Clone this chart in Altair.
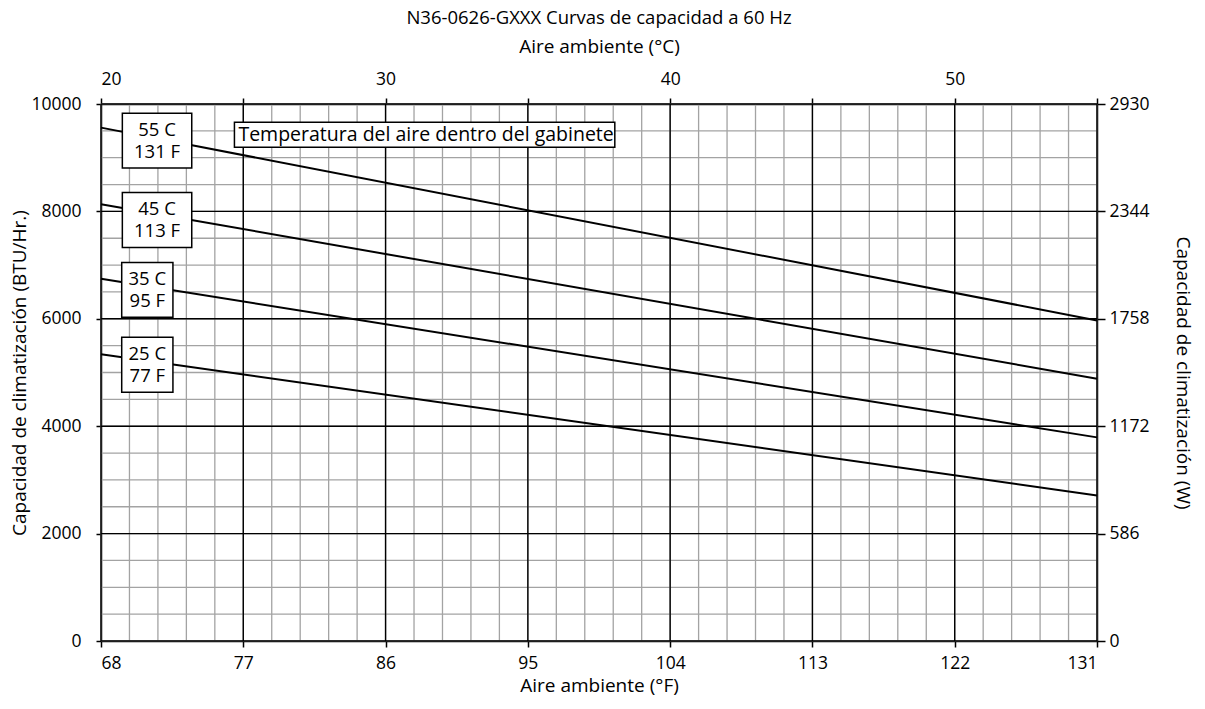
import altair as alt
import pandas as pd

FONT = "Open Sans"
LFS = 17.5   # tick label size
TFS = 19     # axis title size

# ---- axis tick values ----
f_ticks = [68, 77, 86, 95, 104, 113, 122, 131]          # Aire ambiente (°F)
c_ticks = [20, 25, 30, 35, 40, 45, 50, 55]              # Aire ambiente (°C)
btu_ticks = [0, 2000, 4000, 6000, 8000, 10000]          # BTU/Hr.
w_ticks = [0, 586, 1172, 1758, 2344, 2930]              # W

# ---- grid positions (every 1 °C and every 500 BTU/Hr.) ----
f_minor = [round(68 + 1.8 * i, 2) for i in range(36)]
btu_minor = list(range(0, 10001, 500))

# ---- capacity curves (BTU/Hr. at 68 °F and 131 °F) ----
curve_names = ["55 C", "45 C", "35 C", "25 C"]
curve_f = [68, 131]
curve_55 = [9560, 5970]
curve_45 = [8135, 4885]
curve_35 = [6745, 3792]
curve_25 = [5338, 2711]

# ---- curve labels ----
box_text = ["55 C\n131 F", "45 C\n113 F", "35 C\n95 F", "25 C\n77 F"]
box_f1 = [69.35, 69.35, 69.31, 69.31]
box_f2 = [73.74, 73.74, 72.55, 72.55]
box_top = [9826, 8354, 7050, 5658]
box_bot = [8807, 7329, 6031, 4634]

note_text = "Temperatura del aire dentro del gabinete"
note_f = [76.44, 100.5]
note_btu = [9193, 9658]

title_text = "N36-0626-GXXX Curvas de capacidad a 60 Hz"

# ---- data frames ----
curves = []
for name, vals in zip(curve_names, [curve_55, curve_45, curve_35, curve_25]):
    for f, v in zip(curve_f, vals):
        curves.append({"curve": name, "F": f, "BTU": v})
curves_df = pd.DataFrame(curves)

boxes_df = pd.DataFrame({
    "label": box_text, "F": box_f1, "F2": box_f2, "BTU": box_bot, "BTU2": box_top,
    "Fc": [(a + b) / 2 for a, b in zip(box_f1, box_f2)],
    "Bc": [(a + b) / 2 for a, b in zip(box_top, box_bot)],
})
note_df = pd.DataFrame({"label": [note_text], "F": [note_f[0]], "F2": [note_f[1]],
                        "BTU": [note_btu[0]], "BTU2": [note_btu[1]],
                        "Bc": [sum(note_btu) / 2]})

common_axis = dict(domainColor="black", tickColor="black", labelColor="black",
                   titleColor="black", labelFont=FONT, titleFont=FONT,
                   labelFontSize=LFS, titleFontSize=TFS, titleFontWeight="normal",
                   tickWidth=1.5, domainWidth=1.5, grid=False)

axF = alt.Axis(values=f_ticks, title="Aire ambiente (°F)", orient="bottom",
               tickSize=6, labelPadding=7, titlePadding=5, **common_axis)
axB = alt.Axis(values=btu_ticks, title="Capacidad de climatización (BTU/Hr.)",
               orient="left", format="d", tickSize=5, labelPadding=15, titlePadding=1,
               **common_axis)

sx = alt.Scale(domain=[68, 131], nice=False, zero=False)
sy = alt.Scale(domain=[0, 10000], nice=False, zero=True)

xF = alt.X("F:Q", scale=sx, axis=axF)
yB = alt.Y("BTU:Q", scale=sy, axis=axB)

minor_v = alt.Chart(pd.DataFrame({"F": f_minor})).mark_rule(
    color="#a3a3a3", strokeWidth=1.3).encode(x=xF)
minor_h = alt.Chart(pd.DataFrame({"BTU": btu_minor})).mark_rule(
    color="#a3a3a3", strokeWidth=1.3).encode(y=yB)
major_v = alt.Chart(pd.DataFrame({"F": f_ticks})).mark_rule(
    color="black", strokeWidth=1.4).encode(x=xF)
major_h = alt.Chart(pd.DataFrame({"BTU": btu_ticks})).mark_rule(
    color="black", strokeWidth=1.4).encode(y=yB)

lines = alt.Chart(curves_df).mark_line(color="black", strokeWidth=2).encode(
    x=xF, y=yB, detail="curve:N")

boxes = alt.Chart(boxes_df).mark_rect(fill="white", stroke="black", strokeWidth=1.5).encode(
    x=xF, x2="F2:Q", y=yB, y2="BTU2:Q")
box_labels = alt.Chart(boxes_df).mark_text(
    font=FONT, fontSize=18.5, lineBreak="\n", lineHeight=21.5, baseline="middle",
    align="center", dy=-10.5, color="black").encode(
    x=alt.X("Fc:Q", scale=sx, axis=axF), y=alt.Y("Bc:Q", scale=sy, axis=axB), text="label:N")

note_box = alt.Chart(note_df).mark_rect(fill="white", stroke="black", strokeWidth=1.5).encode(
    x=xF, x2="F2:Q", y=yB, y2="BTU2:Q")
note_label = alt.Chart(note_df).mark_text(
    font=FONT, fontSize=19.5, baseline="middle", align="left", dx=4, color="black").encode(
    x=xF, y=alt.Y("Bc:Q", scale=sy, axis=axB), text="label:N")

main = alt.layer(minor_v, minor_h, major_v, major_h, lines, boxes, box_labels,
                 note_box, note_label)

top_axis = alt.Chart(pd.DataFrame({"C": c_ticks})).mark_rule(opacity=0).encode(
    x=alt.X("C:Q", scale=alt.Scale(domain=[20, 55], nice=False, zero=False),
            axis=alt.Axis(orient="top", values=c_ticks, title="Aire ambiente (°C)",
                          labelExpr="datum.value % 10 == 0 && datum.value < 55 ? datum.label : ''",
                          tickSize=6, labelPadding=10, titlePadding=14, **common_axis)))

right_axis = alt.Chart(pd.DataFrame({"W": w_ticks})).mark_rule(opacity=0).encode(
    y=alt.Y("W:Q", scale=alt.Scale(domain=[0, 2930], nice=False, zero=True),
            axis=alt.Axis(orient="right", values=w_ticks, format="d",
                          title="Capacidad de climatización (W)",
                          tickSize=8, labelPadding=4, titlePadding=23, **common_axis)))

chart = alt.layer(main, top_axis, right_axis).resolve_scale(
    x="independent", y="independent"
).properties(
    width=996, height=537,
    padding={"left": 2, "top": 0, "right": 2, "bottom": 0},
    title=alt.TitleParams(title_text, font=FONT, fontSize=18.5, fontWeight="normal",
                          color="black", anchor="middle", offset=10),
    background="white",
).configure_view(stroke=None)

chart.save("out.html", embed_options={"renderer": "svg", "actions": False})
